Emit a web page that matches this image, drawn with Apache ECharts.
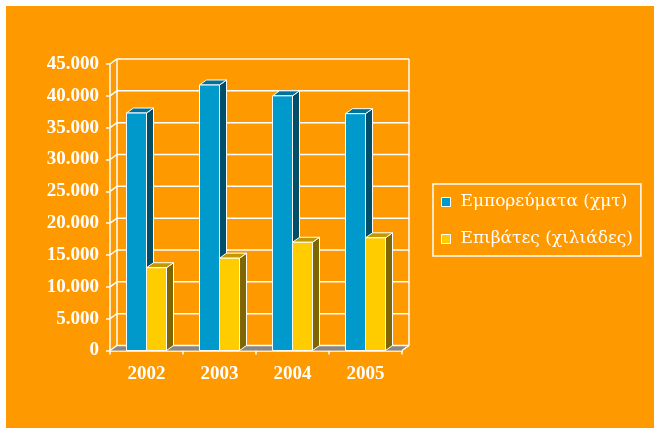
<!DOCTYPE html>
<html>
<head>
<meta charset="utf-8">
<script src="https://cdn.jsdelivr.net/npm/echarts@6/dist/echarts.min.js"></script>
<style>
  html, body { margin: 0; padding: 0; background: #fff; }
  #main { width: 654px; height: 428px; }
</style>
</head>
<body>
<div id="main"></div>
<script>
// chart data
const years = ['2002', '2003', '2004', '2005'];
const freight = [37300, 41700, 40000, 37200];   // Εμπορεύματα (χμτ)
const passengers = [13000, 14500, 17000, 17700]; // Επιβάτες (χιλιάδες)
const yTicks = [0, 5000, 10000, 15000, 20000, 25000, 30000, 35000, 40000, 45000];

const DX = 7, DY = -5;   // 3d depth offset
const BAR_W = 20;
const FONT = '"Liberation Serif", "Times New Roman", serif';
const LEGEND_FONT = '"DejaVu Serif", "Liberation Serif", serif';

function fmt(v) {
  return String(v).replace(/\B(?=(\d{3})+(?!\d))/g, '.');
}

function barRenderer(side, front, top, dark) {
  return function (params, api) {
    const c = api.coord([api.value(0), api.value(1)]);
    const b = api.coord([api.value(0), 0]);
    const x = side < 0 ? c[0] - BAR_W : c[0];
    const y = c[1], y0 = b[1], w = BAR_W;
    const st = { stroke: '#fff', lineWidth: 1 };
    return {
      type: 'group',
      children: [
        { type: 'polygon', shape: { points: [[x + w, y], [x + w + DX, y + DY], [x + w + DX, y0 + DY], [x + w, y0]] },
          style: Object.assign({ fill: dark }, st) },
        { type: 'polygon', shape: { points: [[x, y], [x + DX, y + DY], [x + w + DX, y + DY], [x + w, y]] },
          style: Object.assign({ fill: top }, st) },
        { type: 'rect', shape: { x: x, y: y, width: w, height: y0 - y },
          style: Object.assign({ fill: front }, st) }
      ]
    };
  };
}

function wallRenderer(params, api) {
  const v = api.value(1);
  const bw = api.size([1, 0])[0];
  const x0 = api.coord([0, v])[0] - bw / 2;
  const x1 = x0 + bw * years.length;
  const y = api.coord([0, v])[1];
  const line = { stroke: '#fff', lineWidth: 1.5, fill: null };
  const kids = [];
  if (v === 0) {
    kids.push({ type: 'polygon', shape: { points: [[x0, y], [x0 + DX, y + DY], [x1 + DX, y + DY], [x1, y]] },
      style: { fill: '#888888' } });
    kids.push({ type: 'line', shape: { x1: x1, y1: y, x2: x1 + DX, y2: y + DY }, style: line });
  }
  if (v === yTicks[yTicks.length - 1]) {
    const yb = api.coord([0, 0])[1];
    kids.push({ type: 'line', shape: { x1: x0 + DX, y1: y + DY, x2: x0 + DX, y2: yb + DY }, style: line });
    kids.push({ type: 'line', shape: { x1: x1 + DX, y1: y + DY, x2: x1 + DX, y2: yb + DY }, style: line });
  }
  kids.push({ type: 'polyline', shape: { points: [[x0, y], [x0 + DX, y + DY], [x1 + DX, y + DY]] }, style: line });
  return { type: 'group', children: kids };
}

const chart = echarts.init(document.getElementById('main'));
chart.setOption({
  animation: false,
  backgroundColor: '#fff',
  graphic: [{
    type: 'rect', z: -100, silent: true,
    shape: { x: 6, y: 6, width: 648, height: 422 },
    style: { fill: '#FF9900' }
  }],
  legend: {
    data: ['Εμπορεύματα (χμτ)', 'Επιβάτες (χιλιάδες)'],
    orient: 'vertical',
    left: 433, top: 184,
    padding: [8, 8, 7, 8],
    itemGap: 17,
    itemWidth: 9, itemHeight: 9,
    icon: 'rect',
    borderColor: '#fff', borderWidth: 1.5,
    itemStyle: { borderColor: '#fff', borderWidth: 1 },
    textStyle: { color: '#fff', fontFamily: LEGEND_FONT, fontSize: 17, lineHeight: 20, padding: [0, 0, 0, 5] }
  },
  grid: { left: 110, top: 64, width: 292, height: 286.5 },
  xAxis: {
    type: 'category',
    data: years,
    axisLine: { show: true, lineStyle: { color: '#fff', width: 1.5 } },
    axisTick: { show: true, length: 4, lineStyle: { color: '#fff', width: 1.5 } },
    axisLabel: { color: '#fff', fontFamily: FONT, fontWeight: 'bold', fontSize: 19, margin: 14 },
    splitLine: { show: false }
  },
  yAxis: {
    type: 'value',
    min: 0, max: 45000, interval: 5000,
    axisLine: { show: true, lineStyle: { color: '#fff', width: 1.5 } },
    axisTick: { show: true, length: 4, lineStyle: { color: '#fff', width: 1.5 } },
    axisLabel: { color: '#fff', fontFamily: FONT, fontWeight: 'bold', fontSize: 19, margin: 11, formatter: fmt },
    splitLine: { show: false }
  },
  series: [
    {
      type: 'custom', name: 'walls', z: 1, silent: true,
      renderItem: wallRenderer,
      encode: { x: 0, y: 1 },
      data: yTicks.map(v => [0, v])
    },
    {
      type: 'custom', name: 'Εμπορεύματα (χμτ)', z: 3,
      itemStyle: { color: '#0099CC' },
      renderItem: barRenderer(-1, '#0099CC', '#00729A', '#004E68'),
      encode: { x: 0, y: 1 },
      data: freight.map((v, i) => [i, v])
    },
    {
      type: 'custom', name: 'Επιβάτες (χιλιάδες)', z: 4,
      itemStyle: { color: '#FFCC00' },
      renderItem: barRenderer(1, '#FFCC00', '#C09A00', '#806600'),
      encode: { x: 0, y: 1 },
      data: passengers.map((v, i) => [i, v])
    }
  ]
});
</script>
</body>
</html>
